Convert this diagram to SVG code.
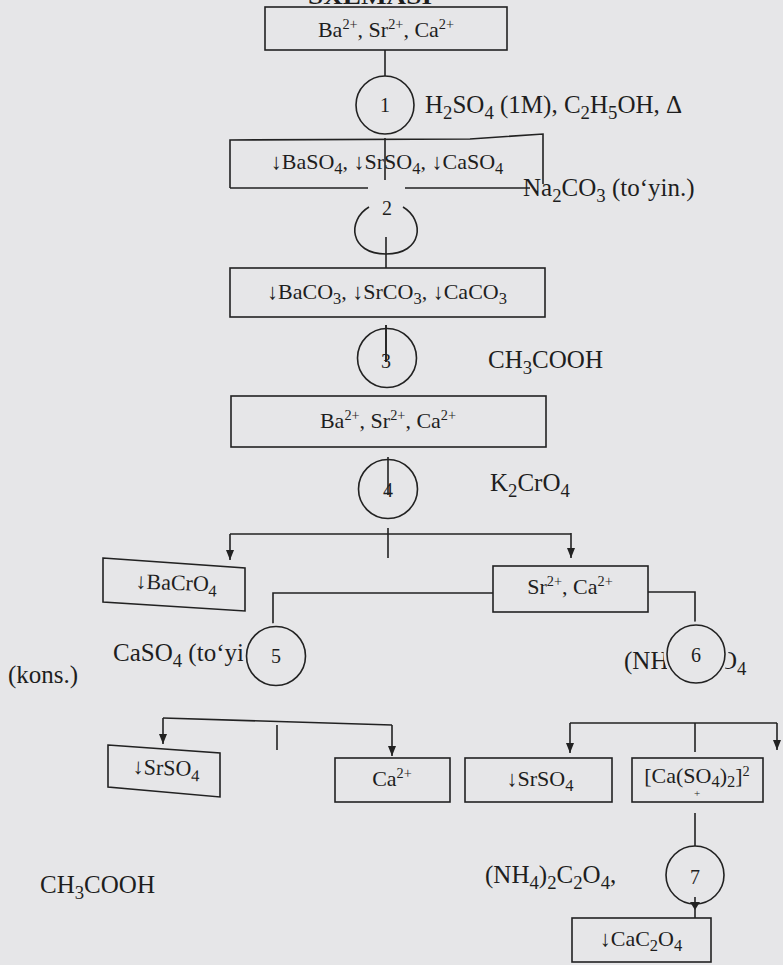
<svg xmlns="http://www.w3.org/2000/svg" width="783" height="965" viewBox="0 0 783 965">
<defs>
<style>
.bg{fill:#e6e6e8}
.ln{fill:none;stroke:#222;stroke-width:1.6}
.cf{fill:#e6e6e8;stroke:#222;stroke-width:1.6}
.halo{fill:#e6e6e8;stroke:#e6e6e8;stroke-width:7}
text{font-family:"Liberation Serif","Times New Roman",serif;fill:#1e1e1e}
.b{font-size:22px;text-anchor:middle}
.r{font-size:25px}
.n{font-size:20px;text-anchor:middle}
.s{font-size:75%}
.p{font-size:65%}
</style>
<marker id="ah" viewBox="0 0 10 10" refX="10" refY="5" markerWidth="10" markerHeight="10" markerUnits="userSpaceOnUse" orient="auto"><path d="M0,1 L10,5 L0,9 Z" fill="#222"/></marker>
</defs>
<rect class="bg" x="0" y="0" width="783" height="965"/>
<text x="308" y="4" font-size="24" font-weight="bold" textLength="124" lengthAdjust="spacingAndGlyphs">SXEMASI</text>

<g id="connectors">
<path class="ln" d="M385,50 V77"/>
<path class="ln" d="M385,138 V180"/>
<path class="ln" d="M386,237 V268"/>
<path class="ln" d="M386,325 V362"/>
<path class="ln" d="M388,457 V495"/>
<path class="ln" d="M230,534 H571"/>
<path class="ln" d="M230,534 V560" marker-end="url(#ah)"/>
<path class="ln" d="M571,533 V558" marker-end="url(#ah)"/>
<path class="ln" d="M388,528 V558"/>
<path class="ln" d="M493,593 H273 V626"/>
<path class="ln" d="M648,592 H695 V625"/>
<path class="ln" d="M163,718 L392,725"/>
<path class="ln" d="M163,718 V744" marker-end="url(#ah)"/>
<path class="ln" d="M392,725 V756" marker-end="url(#ah)"/>
<path class="ln" d="M277,725 V750"/>
<path class="ln" d="M570,723 H777"/>
<path class="ln" d="M570,723 V753" marker-end="url(#ah)"/>
<path class="ln" d="M777,723 V750" marker-end="url(#ah)"/>
<path class="ln" d="M695,723 V752"/>
<path class="ln" d="M695,813 V846"/>
<path class="ln" d="M695,897 V918"/>
<path d="M690,902 L700,902 L695,910 Z" fill="#222"/>
</g>

<g id="box1">
<rect class="ln" x="265" y="7" width="242" height="43"/>
<text class="b" x="386" y="37">Ba<tspan class="p" dy="-8">2+</tspan><tspan dy="8">, Sr</tspan><tspan class="p" dy="-8">2+</tspan><tspan dy="8">, Ca</tspan><tspan class="p" dy="-8">2+</tspan></text>
</g>

<g id="step1">
<circle class="cf" cx="385" cy="105" r="29"/>
<text class="n" x="385" y="112">1</text>
<text class="r" x="425" y="113">H<tspan class="s" dy="6">2</tspan><tspan dy="-6">SO</tspan><tspan class="s" dy="6">4</tspan><tspan dy="-6"> (1M), C</tspan><tspan class="s" dy="6">2</tspan><tspan dy="-6">H</tspan><tspan class="s" dy="6">5</tspan><tspan dy="-6">OH, Δ</tspan></text>
</g>

<g id="box2">
<path class="ln" d="M230,188 V140 L470,139 L543,134 V184"/>
<path class="ln" d="M230,188 H368 M405,188 H530"/>
<text class="b" x="387" y="169">↓BaSO<tspan class="s" dy="5">4</tspan><tspan dy="-5">, ↓SrSO</tspan><tspan class="s" dy="5">4</tspan><tspan dy="-5">, ↓CaSO</tspan><tspan class="s" dy="5">4</tspan></text>
</g>

<g id="step2">
<path class="ln" d="M369,207 C347,220 349,254 386,254 C423,254 425,220 403,207"/>
<text class="n" x="387" y="215">2</text>
<text class="r" x="523" y="196">Na<tspan class="s" dy="6">2</tspan><tspan dy="-6">CO</tspan><tspan class="s" dy="6">3</tspan><tspan dy="-6"> (to‘yin.)</tspan></text>
</g>

<g id="box3">
<rect class="ln" x="230" y="268" width="315" height="49"/>
<text class="b" x="387" y="299">↓BaCO<tspan class="s" dy="5">3</tspan><tspan dy="-5">, ↓SrCO</tspan><tspan class="s" dy="5">3</tspan><tspan dy="-5">, ↓CaCO</tspan><tspan class="s" dy="5">3</tspan></text>
</g>

<g id="step3">
<circle class="ln" cx="387" cy="358" r="29.5"/>
<path class="ln" d="M386,325 V362"/>
<text class="n" x="386" y="368">3</text>
<text class="r" x="488" y="368">CH<tspan class="s" dy="6">3</tspan><tspan dy="-6">COOH</tspan></text>
</g>

<g id="box4">
<rect class="ln" x="231" y="396" width="315" height="51"/>
<text class="b" x="388" y="428">Ba<tspan class="p" dy="-8">2+</tspan><tspan dy="8">, Sr</tspan><tspan class="p" dy="-8">2+</tspan><tspan dy="8">, Ca</tspan><tspan class="p" dy="-8">2+</tspan></text>
</g>

<g id="step4">
<circle class="ln" cx="388" cy="489" r="29.5"/>
<text class="n" x="388" y="497">4</text>
<text class="r" x="490" y="491">K<tspan class="s" dy="6">2</tspan><tspan dy="-6">CrO</tspan><tspan class="s" dy="6">4</tspan></text>
</g>

<g id="boxBaCrO4">
<path class="ln" d="M103,558 L245,568 V611 L103,602 Z"/>
<text class="b" x="176" y="590" transform="rotate(2 176 590)">↓BaCrO<tspan class="s" dy="5">4</tspan></text>
</g>

<g id="boxSrCa">
<rect class="ln" x="493" y="566" width="155" height="46"/>
<text class="b" x="570" y="594">Sr<tspan class="p" dy="-8">2+</tspan><tspan dy="8">, Ca</tspan><tspan class="p" dy="-8">2+</tspan></text>
</g>

<g id="step5">
<text class="r" x="113" y="661">CaSO<tspan class="s" dy="6">4</tspan><tspan dy="-6"> (to‘yi</tspan></text>
<text class="r" x="8" y="683">(kons.)</text>
<circle class="halo" cx="276" cy="656" r="29.5"/>
<circle class="cf" cx="276" cy="656" r="29.5"/>
<text class="n" x="276" y="663">5</text>
</g>

<g id="step6">
<text class="r" x="624" y="669">(NH</text>
<text class="r" x="719" y="669">O<tspan class="s" dy="6">4</tspan></text>
<circle class="halo" cx="696" cy="654" r="29"/>
<circle class="cf" cx="696" cy="654" r="29"/>
<text class="n" x="696" y="662">6</text>
</g>

<g id="boxSrSO4a">
<path class="ln" d="M108,745 L220,753 V797 L108,787 Z"/>
<text class="b" x="166" y="775" transform="rotate(2 166 775)">↓SrSO<tspan class="s" dy="5">4</tspan></text>
</g>

<g id="boxCa">
<rect class="ln" x="335" y="758" width="115" height="44"/>
<text class="b" x="392" y="786">Ca<tspan class="p" dy="-8">2+</tspan></text>
</g>

<g id="boxSrSO4b">
<rect class="ln" x="465" y="758" width="147" height="44"/>
<text class="b" x="540" y="786">↓SrSO<tspan class="s" dy="5">4</tspan></text>
</g>

<g id="boxCaSO4complex">
<rect class="ln" x="632" y="758" width="131" height="44"/>
<text class="b" x="697" y="783" font-size="20">[Ca(SO<tspan class="s" dy="4">4</tspan><tspan dy="-4">)</tspan><tspan class="s" dy="4">2</tspan><tspan dy="-4">]</tspan><tspan class="p" dy="-7">2</tspan></text>
<text x="697" y="797" font-size="11" text-anchor="middle">+</text>
</g>

<g id="step7">
<circle class="ln" cx="695" cy="875" r="29"/>
<text class="n" x="695" y="884">7</text>
<text class="r" x="485" y="883">(NH<tspan class="s" dy="6">4</tspan><tspan dy="-6">)</tspan><tspan class="s" dy="6">2</tspan><tspan dy="-6">C</tspan><tspan class="s" dy="6">2</tspan><tspan dy="-6">O</tspan><tspan class="s" dy="6">4</tspan><tspan dy="-6">,</tspan></text>
<text class="r" x="40" y="893">CH<tspan class="s" dy="6">3</tspan><tspan dy="-6">COOH</tspan></text>
</g>

<g id="boxCaC2O4">
<rect class="ln" x="572" y="918" width="139" height="44"/>
<text class="b" x="641" y="946">↓CaC<tspan class="s" dy="5">2</tspan><tspan dy="-5">O</tspan><tspan class="s" dy="5">4</tspan></text>
</g>
</svg>
